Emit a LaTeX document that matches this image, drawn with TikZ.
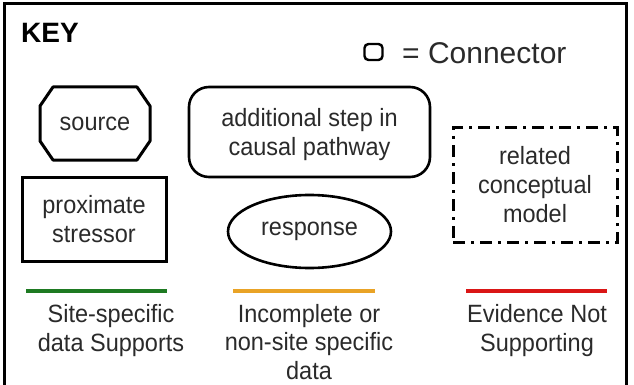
\documentclass[tikz,border=0pt]{standalone}
\usepackage{fontspec}
\setmainfont{Liberation Sans}[FakeStretch=0.94]
\newfontfamily\keyfont{Liberation Sans}
\usetikzlibrary{shapes.geometric}
\definecolor{txt}{HTML}{2A2A2A}
\definecolor{okgreen}{HTML}{1E7A22}
\definecolor{partorange}{HTML}{E9A326}
\definecolor{notred}{HTML}{DA1616}
\begin{document}
\begin{tikzpicture}[x=1pt,y=-1pt,
  lbl/.style={text=txt,align=center,inner sep=0pt,outer sep=0pt,
    font=\fontsize{25}{29}\selectfont},
  outline/.style={draw=black,line width=2.6pt},
  legline/.style={line width=4pt},
]
\useasboundingbox (0,0) rectangle (634,385);
\begin{scope}
\clip (0,0) rectangle (634,385);
\draw[line width=3pt] (4,4) rectangle (626,400);
\end{scope}

% title and connector legend
\node[anchor=west,inner sep=0pt,text=black,font=\keyfont\bfseries\fontsize{28}{32}\selectfont] (key) at (21,33) {KEY};
\node[draw=black,line width=2.4pt,rounded corners=4pt,minimum width=18pt,minimum height=16pt,inner sep=0pt] (conn) at (373.5,52) {};
\node[anchor=west,inner sep=0pt,text=txt,font=\keyfont\fontsize{30}{33}\selectfont] (connlbl) at (402,53) {= Connector};

% source: octagon
\node[lbl,minimum width=110pt,minimum height=73pt] (src) at (95,123.5) {source};
\draw[outline,line width=3pt,line join=round]
  ([xshift=13pt]src.north west) -- ([xshift=-13pt]src.north east)
  -- ([yshift=-19pt]src.north east) -- ([yshift=19pt]src.south east)
  -- ([xshift=-13pt]src.south east) -- ([xshift=13pt]src.south west)
  -- ([yshift=19pt]src.south west) -- ([yshift=-19pt]src.north west) -- cycle;

% additional step: rounded rectangle
\node[lbl,outline,rounded corners=20pt,minimum width=241pt,minimum height=90pt,text depth=-2pt] (step) at (309.5,132) {additional step in\\causal pathway};

% proximate stressor: rectangle
\node[lbl,outline,line width=3pt,minimum width=144pt,minimum height=84pt] (stress) at (94,219) {proximate\\stressor};

% response: ellipse
\node[lbl,outline,ellipse,minimum width=163pt,minimum height=73pt] (resp) at (309.5,231.5) {response};

% related conceptual model: dash-dot rectangle
\node[lbl,draw=black,line width=3pt,dash pattern=on 12pt off 6pt on 3pt off 6pt,minimum width=164pt,minimum height=114pt] (rel) at (535,185) {related\\conceptual\\model};

% evidence lines
\coordinate (g1) at (26,291); \coordinate (g2) at (167,291);
\coordinate (o1) at (233,291); \coordinate (o2) at (375,291);
\coordinate (r1) at (466,291); \coordinate (r2) at (607,291);
\draw[legline,okgreen] (g1) -- (g2);
\draw[legline,partorange] (o1) -- (o2);
\draw[legline,notred] (r1) -- (r2);

\node[lbl,anchor=north] (glbl) at (111,304) {Site-specific\\data Supports};
\node[lbl,anchor=north,font=\fontsize{25}{28.5}\selectfont] (olbl) at (309,304) {Incomplete or\\non-site specific\\data};
\node[lbl,anchor=north] (rlbl) at (537,304) {Evidence Not\\Supporting};
\end{tikzpicture}
\end{document}
